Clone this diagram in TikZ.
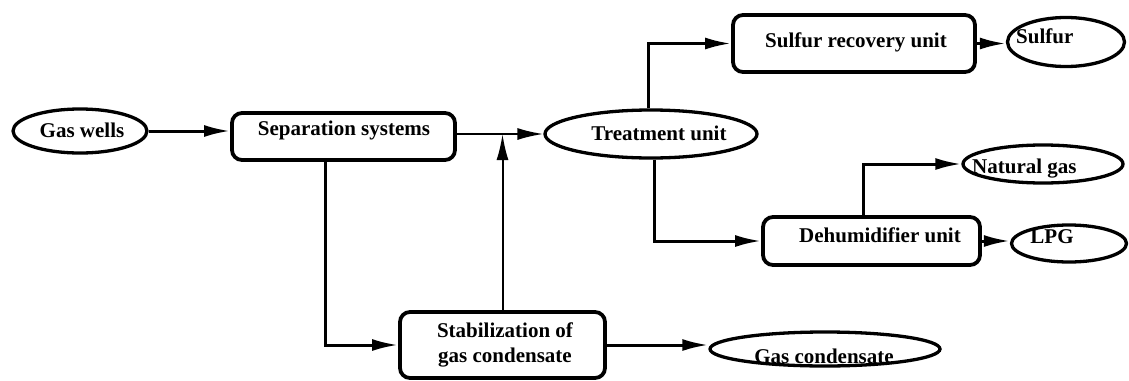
\documentclass[tikz,border=0pt]{standalone}
\usepackage{fontspec}
\setmainfont{Liberation Serif}
\usetikzlibrary{arrows.meta,shapes.geometric}
\begin{document}
\begin{tikzpicture}[x=1pt,y=-1pt,
  box/.style={draw, line width=3.8pt, rounded corners=10pt, inner sep=0pt},
  oval/.style={draw, ellipse, line width=3.3pt, inner sep=0pt},
  txt/.style={font=\fontsize{21}{25}\selectfont\bfseries, inner sep=0pt, align=center},
  flow/.style={line width=3pt, -{Latex[length=26pt,width=12pt]}},
  thinflow/.style={line width=2pt, -{Latex[length=26pt,width=12pt]}},
]
\useasboundingbox (0,0) rectangle (1129,380);
% shapes
\node[oval, minimum width=134pt, minimum height=44pt] (gw) at (80,131) {};
\node[box, minimum width=223pt, minimum height=47pt] (sep) at (343.5,136.5) {};
\node[oval, minimum width=212pt, minimum height=48pt] (tu) at (651,134) {};
\node[box, minimum width=242pt, minimum height=57pt] (srb) at (854,43.5) {};
\node[oval, minimum width=117pt, minimum height=49pt] (sul) at (1066,42) {};
\node[oval, minimum width=160pt, minimum height=38pt] (ng) at (1043,164) {};
\node[box, minimum width=217pt, minimum height=48pt] (dh) at (871.5,241) {};
\node[oval, minimum width=115pt, minimum height=37pt] (lpg) at (1069,243.5) {};
\node[box, minimum width=205pt, minimum height=66pt] (st) at (502.5,345) {};
\node[oval, minimum width=230pt, minimum height=34pt] (gc) at (825,349) {};
% texts
\node[txt, anchor=base] (tgw) at (82,137) {Gas wells};
\node[txt, anchor=base] (tsep) at (344,135) {Separation systems};
\node[txt, anchor=base] (ttu) at (659,140) {Treatment unit};
\node[txt, anchor=base] (tsrb) at (856,47) {Sulfur recovery unit};
\node[txt, anchor=base west] (tsul) at (1016,43) {Sulfur};
\node[txt, anchor=base west] (tng) at (972,173) {Natural gas};
\node[txt, anchor=base] (tdh) at (880,242) {Dehumidifier unit};
\node[txt, anchor=base] (tlpg) at (1052,243) {LPG};
\node[txt, anchor=north] (tst) at (505,322.5) {Stabilization of\\gas condensate};
\node[txt, anchor=base] (tgc) at (824,363) {Gas condensate};
% connectors
\draw[flow] (gw.east) -- (gw.east -| sep.west);
\draw[thinflow] (sep.east |- tu.west) -- (tu.west);
\draw[thinflow] (st.north) -- (st.north |- tu.west);
\draw[flow] ([xshift=-18.5pt]sep.south) |- (st.west);
\draw[flow] (st.east) -- (st.east -| gc.west);
\draw[flow] ([xshift=-3pt]tu.north) |- (srb.west);
\draw[flow] ([xshift=3pt]tu.south) |- (dh.west);
\draw[flow] (srb.east) -- (srb.east -| sul.west);
\draw[flow] ([xshift=-8.5pt]dh.north) |- (ng.west);
\draw[flow] (dh.east) -- (dh.east -| lpg.west);
\end{tikzpicture}
\end{document}
